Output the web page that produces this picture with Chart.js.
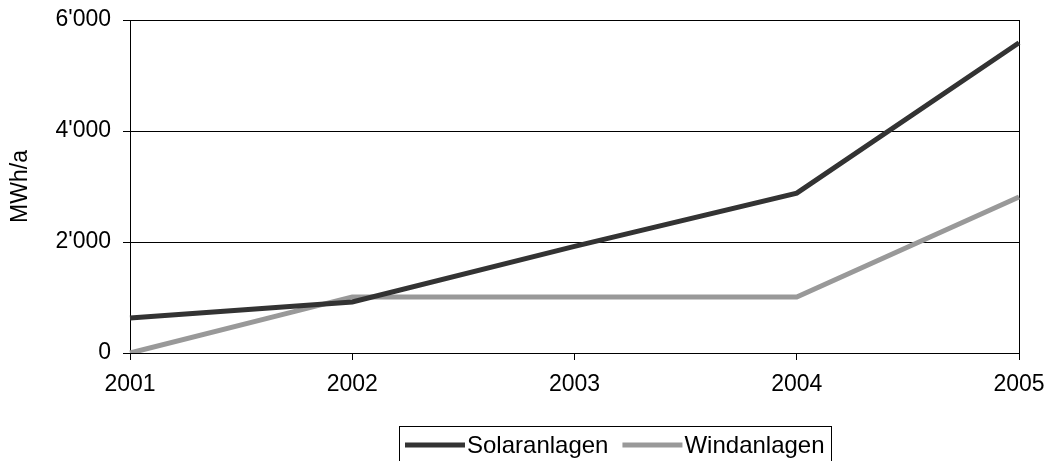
<!DOCTYPE html>
<html><head><meta charset="utf-8">
<script src="https://cdn.jsdelivr.net/npm/chart.js@4"></script>
<style>html,body{margin:0;padding:0;background:#fff;}#wrap{width:1050px;height:461px;}</style>
</head><body><div id="wrap"><canvas id="c" width="1050" height="461"></canvas></div>
<script>
const years = ['2001','2002','2003','2004','2005'];
const solarValues = [630, 920, 1920, 2880, 5590];
const windValues = [0, 1010, 1010, 1010, 2810];
const seriesNames = ['Solaranlagen','Windanlagen'];
const yTicks = [0, 2000, 4000, 6000];
const axisTitle = 'MWh/a';

const FONT = 'Liberation Sans, Arial, sans-serif';
const FS = 23;
const LFS = 24;

const legendPlugin = {
  id: 'boxLegend',
  afterDraw(chart) {
    const ctx = chart.ctx;
    ctx.save();
    ctx.font = LFS + 'px ' + FONT;
    const left = 399, top = 426, lineLen = 60, gapText = 2, gapItem = 14, padL = 6, padR = 6;
    let x = left + padL;
    const yMid = 445;
    const items = chart.data.datasets.map(d => ({label: d.label, color: d.borderColor, w: ctx.measureText(d.label).width}));
    let total = padL + padR;
    items.forEach((it,i) => { total += lineLen + gapText + it.w + (i < items.length-1 ? gapItem : 0); });
    ctx.strokeStyle = '#000'; ctx.lineWidth = 1;
    ctx.strokeRect(left + 0.5, top + 0.5, Math.round(total), 60);
    items.forEach(it => {
      ctx.strokeStyle = it.color; ctx.lineWidth = 5;
      ctx.beginPath(); ctx.moveTo(x, yMid); ctx.lineTo(x + lineLen, yMid); ctx.stroke();
      x += lineLen + gapText;
      ctx.fillStyle = '#000'; ctx.textBaseline = 'middle'; ctx.textAlign = 'left';
      ctx.fillText(it.label, x, yMid + 1);
      x += it.w + gapItem;
    });
    ctx.restore();
  }
};

new Chart(document.getElementById('c'), {
  type: 'line',
  data: {
    labels: years,
    datasets: [
      {label: seriesNames[0], data: solarValues, borderColor: '#333333', backgroundColor: '#333333', borderWidth: 5, pointRadius: 0, tension: 0},
      {label: seriesNames[1], data: windValues, borderColor: '#999999', backgroundColor: '#999999', borderWidth: 5, pointRadius: 0, tension: 0}
    ]
  },
  options: {
    responsive: false,
    animation: false,
    devicePixelRatio: 1,
    layout: {padding: {left: 0, right: 31, top: 20, bottom: 68}},
    plugins: {legend: {display: false}, tooltip: {enabled: false}},
    scales: {
      x: {
        offset: false,
        afterFit: s => { s.height = 40; s.paddingLeft = 0; s.paddingRight = 0; },
        grid: {
          color: c => (c.index === 4 || c.index === 0) ? '#000' : 'rgba(0,0,0,0)',
          tickColor: '#000', tickLength: 7, lineWidth: 1, drawOnChartArea: true
        },
        border: {color: '#000', width: 1},
        ticks: {color: '#000', font: {family: FONT, size: FS}, padding: 11, maxRotation: 0, autoSkip: false}
      },
      y: {
        min: 0, max: 6000,
        afterFit: s => { s.width = 130; s.paddingTop = 0; s.paddingBottom = 0; },
        afterBuildTicks: s => { s.ticks = yTicks.map(v => ({value: v})); },
        grid: {color: '#000', tickColor: '#000', tickLength: 7, lineWidth: 1},
        border: {color: '#000', width: 1},
        ticks: {color: '#000', font: {family: FONT, size: FS}, padding: 12,
          callback: v => String(v).replace(/\B(?=(\d{3})+(?!\d))/g, "'")},
        title: {display: true, text: axisTitle, color: '#000', font: {family: FONT, size: FS}, padding: {top: 7, bottom: 0}}
      }
    }
  },
  plugins: [legendPlugin]
});
</script>
</body></html>
